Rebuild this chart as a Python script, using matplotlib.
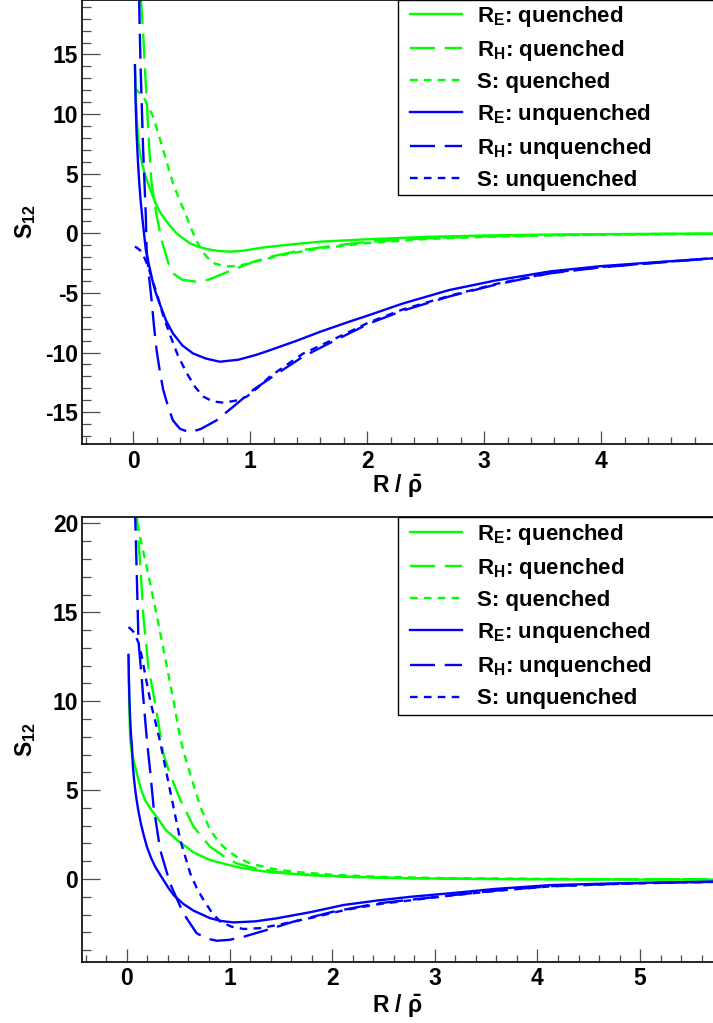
import matplotlib
matplotlib.use("Agg")
import matplotlib.pyplot as plt
from matplotlib.ticker import MultipleLocator
from matplotlib.patches import Rectangle

# ---- data (x = R / rho_bar, y = S_12) ----
# upper panel
re_q_top_x = [0.015, 0.022, 0.03, 0.043, 0.06, 0.085, 0.114, 0.157, 0.19, 0.228, 0.3, 0.37, 0.43, 0.485, 0.55, 0.627, 0.73, 0.83, 0.95, 1.1, 1.3, 1.6, 2.0, 2.5, 3.0, 3.5, 4.0, 4.5, 4.95]
re_q_top_y = [14.1, 11.8, 9.8, 7.8, 6.6, 5.5, 4.5, 3.4, 2.55, 1.8, 0.8, 0.0, -0.45, -0.84, -1.1, -1.32, -1.48, -1.54, -1.45, -1.2, -0.98, -0.7, -0.5, -0.3, -0.18, -0.11, -0.07, -0.04, -0.02]
rh_q_top_x = [0.06, 0.07, 0.085, 0.1, 0.115, 0.135, 0.157, 0.2, 0.243, 0.3, 0.34, 0.42, 0.54, 0.64, 0.74, 0.88, 1.03, 1.2, 1.45, 1.7, 2.02, 2.5, 3.0, 3.5, 4.0, 4.5, 4.95]
rh_q_top_y = [21.0, 19.0, 16.8, 13.9, 11.2, 7.5, 4.2, 1.5, -0.56, -2.5, -3.36, -3.9, -4.06, -3.9, -3.5, -2.95, -2.38, -1.9, -1.4, -1.05, -0.7, -0.42, -0.26, -0.16, -0.1, -0.06, -0.04]
s_q_top_x = [0.015, 0.04, 0.085, 0.17, 0.256, 0.34, 0.4, 0.456, 0.5, 0.54, 0.59, 0.63, 0.7, 0.8, 0.9, 1.0, 1.15, 1.31, 1.6, 2.02, 2.5, 3.0, 3.5, 4.0, 4.5, 4.95]
s_q_top_y = [12.2, 11.9, 11.5, 9.8, 7.0, 4.2, 2.7, 1.4, 0.3, -0.6, -1.5, -2.0, -2.55, -2.78, -2.72, -2.5, -2.1, -1.75, -1.25, -0.8, -0.48, -0.3, -0.19, -0.12, -0.08, -0.05]
re_u_top_x = [0.015, 0.02, 0.029, 0.036, 0.043, 0.052, 0.063, 0.075, 0.086, 0.097, 0.108, 0.125, 0.143, 0.165, 0.19, 0.228, 0.28, 0.34, 0.42, 0.51, 0.62, 0.74, 0.9, 1.05, 1.17, 1.4, 1.6, 1.85, 2.02, 2.3, 2.7, 3.1, 3.56, 4.0, 4.5, 4.955]
re_u_top_y = [14.1, 11.2, 8.4, 6.9, 5.6, 4.2, 2.8, 1.6, 0.56, -0.4, -1.4, -2.2, -3.0, -4.0, -4.9, -5.95, -7.3, -8.4, -9.4, -10.07, -10.5, -10.77, -10.6, -10.2, -9.8, -9.0, -8.25, -7.4, -6.85, -5.9, -4.76, -3.95, -3.2, -2.75, -2.4, -2.1]
rh_u_top_x = [0.048, 0.055, 0.063, 0.075, 0.085, 0.097, 0.108, 0.115, 0.135, 0.157, 0.178, 0.2, 0.228, 0.256, 0.3, 0.34, 0.4, 0.485, 0.58, 0.71, 0.86, 1.03, 1.24, 1.45, 1.7, 2.02, 2.3, 2.7, 3.1, 3.56, 4.0, 4.5, 4.955]
rh_u_top_y = [21.0, 17.5, 14.0, 10.2, 7.0, 4.1, 1.4, -1.4, -3.6, -5.6, -7.8, -9.8, -11.6, -13.1, -14.6, -15.7, -16.4, -16.7, -16.4, -15.7, -14.5, -13.1, -11.7, -10.35, -9.1, -7.55, -6.5, -5.3, -4.3, -3.36, -2.85, -2.45, -2.1]
s_u_top_x = [0.015, 0.057, 0.09, 0.128, 0.16, 0.2, 0.25, 0.31, 0.38, 0.456, 0.53, 0.6, 0.68, 0.77, 0.87, 0.97, 1.07, 1.17, 1.45, 1.7, 2.02, 2.3, 2.7, 3.1, 3.56, 4.0, 4.5, 4.955]
s_u_top_y = [-1.1, -1.4, -1.9, -2.8, -3.8, -5.0, -6.7, -8.4, -10.2, -11.7, -12.9, -13.7, -14.1, -14.2, -14.05, -13.7, -12.9, -12.0, -10.1, -8.95, -7.45, -6.4, -5.25, -4.25, -3.32, -2.83, -2.43, -2.08]

# lower panel
re_q_bot_x = [0.016, 0.022, 0.032, 0.045, 0.065, 0.09, 0.113, 0.14, 0.178, 0.23, 0.29, 0.38, 0.49, 0.65, 0.81, 1.0, 1.14, 1.4, 1.79, 2.2, 2.76, 3.5, 4.3, 5.0, 5.71]
re_q_bot_y = [12.6, 10.0, 7.9, 7.2, 6.69, 6.1, 5.57, 5.0, 4.44, 3.95, 3.5, 2.75, 2.19, 1.5, 1.07, 0.78, 0.6, 0.38, 0.22, 0.12, 0.04, 0.0, -0.02, -0.03, -0.03]
rh_q_bot_x = [0.092, 0.097, 0.113, 0.13, 0.162, 0.21, 0.276, 0.357, 0.42, 0.52, 0.65, 0.81, 0.94, 1.07, 1.25, 1.46, 1.75, 2.11, 2.6, 3.2, 4.0, 4.8, 5.71]
rh_q_bot_y = [21.0, 20.4, 19.0, 17.7, 14.7, 11.9, 9.86, 7.0, 5.9, 4.46, 2.94, 1.82, 1.3, 0.88, 0.6, 0.41, 0.25, 0.13, 0.06, 0.02, 0.0, -0.01, -0.01]
s_q_bot_x = [0.105, 0.13, 0.195, 0.26, 0.357, 0.454, 0.52, 0.568, 0.617, 0.714, 0.81, 0.9, 0.975, 1.08, 1.2, 1.4, 1.62, 2.0, 2.44, 3.0, 3.7, 4.5, 5.71]
s_q_bot_y = [20.0, 19.2, 17.5, 15.7, 12.9, 10.05, 7.9, 6.85, 5.9, 4.1, 2.76, 2.05, 1.63, 1.2, 0.88, 0.6, 0.41, 0.24, 0.13, 0.06, 0.02, 0.0, -0.01]
re_u_bot_x = [0.016, 0.02, 0.025, 0.032, 0.039, 0.049, 0.058, 0.07, 0.08, 0.091, 0.11, 0.136, 0.165, 0.195, 0.235, 0.276, 0.32, 0.357, 0.405, 0.455, 0.55, 0.65, 0.81, 0.92, 1.04, 1.25, 1.46, 1.8, 2.11, 2.45, 2.76, 3.15, 3.6, 4.13, 4.9, 5.71]
re_u_bot_y = [12.6, 11.2, 10.1, 9.0, 8.2, 7.5, 6.4, 5.6, 5.1, 4.6, 3.9, 3.13, 2.45, 1.82, 1.2, 0.69, 0.28, -0.06, -0.5, -0.9, -1.4, -1.78, -2.2, -2.36, -2.44, -2.38, -2.21, -1.85, -1.46, -1.2, -1.0, -0.8, -0.55, -0.34, -0.22, -0.15]
rh_u_bot_x = [0.078, 0.081, 0.097, 0.113, 0.14, 0.162, 0.195, 0.23, 0.26, 0.325, 0.42, 0.55, 0.68, 0.78, 0.877, 1.0, 1.14, 1.4, 1.62, 2.0, 2.44, 3.15, 3.6, 4.13, 4.9, 5.71]
rh_u_bot_y = [21.0, 20.36, 17.0, 13.4, 11.6, 10.05, 7.82, 5.9, 4.07, 1.63, -0.24, -1.93, -3.05, -3.35, -3.47, -3.42, -3.24, -2.8, -2.4, -1.85, -1.37, -0.92, -0.65, -0.4, -0.24, -0.16]
s_u_bot_x = [0.016, 0.04, 0.065, 0.09, 0.113, 0.146, 0.185, 0.227, 0.275, 0.325, 0.42, 0.52, 0.617, 0.68, 0.747, 0.83, 0.91, 1.02, 1.14, 1.3, 1.46, 1.8, 2.11, 2.44, 3.15, 3.6, 4.13, 4.9, 5.71]
s_u_bot_y = [14.17, 14.05, 13.9, 13.6, 13.3, 12.5, 11.3, 10.05, 8.9, 7.7, 5.0, 2.2, 0.32, -0.5, -1.18, -1.9, -2.4, -2.68, -2.81, -2.76, -2.59, -2.18, -1.76, -1.42, -0.93, -0.66, -0.41, -0.25, -0.16]

labels = ["R$_\\mathrm{E}$: quenched", "R$_\\mathrm{H}$: quenched", "S: quenched",
          "R$_\\mathrm{E}$: unquenched", "R$_\\mathrm{H}$: unquenched", "S: unquenched"]
colors = ["#00ff00", "#00ff00", "#00ff00", "#0000ff", "#0000ff", "#0000ff"]
styles = ["-", (0, (18, 7)), (0, (5.5, 4.5))] * 2

top_curves = [(re_q_top_x, re_q_top_y), (rh_q_top_x, rh_q_top_y), (s_q_top_x, s_q_top_y),
              (re_u_top_x, re_u_top_y), (rh_u_top_x, rh_u_top_y), (s_u_top_x, s_u_top_y)]
bot_curves = [(re_q_bot_x, re_q_bot_y), (rh_q_bot_x, rh_q_bot_y), (s_q_bot_x, s_q_bot_y),
              (re_u_bot_x, re_u_bot_y), (rh_u_bot_x, rh_u_bot_y), (s_u_bot_x, s_u_bot_y)]

plt.rcParams['font.family'] = ['Liberation Sans', 'DejaVu Sans']
plt.rcParams['font.weight'] = 'bold'
plt.rcParams['mathtext.fontset'] = 'custom'
plt.rcParams['mathtext.rm'] = 'Liberation Sans:bold'
plt.rcParams['mathtext.it'] = 'Liberation Sans:bold'
plt.rcParams['mathtext.bf'] = 'Liberation Sans:bold'
plt.rcParams['mathtext.default'] = 'rm'
plt.rcParams['axes.unicode_minus'] = False
plt.rcParams['lines.scale_dashes'] = False

fig = plt.figure(figsize=(7.13, 10.23), dpi=100)
ax1 = fig.add_axes([0.1146, 0.566, 0.8854, 0.434])
ax2 = fig.add_axes([0.1146, 0.0599, 0.8854, 0.4347])


def draw(ax, curves, xlim, ylim, xlab_y, box_y0, leg_top):
    for (x, y), c, ls, lab in zip(curves, colors, styles, labels):
        ax.plot(x, y, color=c, ls=ls, lw=1.7, label=lab)
    ax.set_xlim(*xlim)
    ax.set_ylim(*ylim)
    ax.xaxis.set_major_locator(MultipleLocator(1))
    ax.xaxis.set_minor_locator(MultipleLocator(0.2))
    ax.yaxis.set_major_locator(MultipleLocator(5))
    ax.yaxis.set_minor_locator(MultipleLocator(1))
    ax.tick_params(which='both', direction='in', top=False, right=False,
                   color='0.3', width=0.9, labelsize=16.5)
    ax.tick_params(axis='y', which='major', length=13, pad=2.5)
    ax.tick_params(axis='y', which='minor', length=6.5)
    ax.tick_params(axis='x', which='major', length=9.4, pad=4)
    ax.tick_params(axis='x', which='minor', length=5)
    for s in ax.spines.values():
        s.set_linewidth(1.2)
    ax.spines['right'].set_visible(False)
    ax.set_xlabel("R / $\\bar{\\rho}$", fontsize=16.5, fontweight='bold')
    ax.xaxis.set_label_coords(0.5, xlab_y)
    ax.set_ylabel("S$_\\mathrm{12}$", fontsize=16.5, fontweight='bold')
    ax.yaxis.set_label_coords(-0.069, 0.5)
    # legend box (ROOT style), legend entries drawn inside without own frame
    box = Rectangle((0.501, box_y0), 0.6, 1.0 - box_y0, transform=ax.transAxes,
                    facecolor='white', edgecolor='black', lw=1.0, zorder=5, clip_on=False)
    ax.add_patch(box)
    leg = ax.legend(loc='upper left', bbox_to_anchor=(0.52, leg_top), frameon=False,
                    borderaxespad=0, borderpad=0, fontsize=16, labelspacing=0.41,
                    handlelength=2.35, handletextpad=0.68)
    leg.set_zorder(6)


draw(ax1, top_curves, (-0.44, 4.955), (-17.67, 19.57), -0.065, 0.561, 0.992)
draw(ax2, bot_curves, (-0.44, 5.71), (-4.65, 20.36), -0.07, 0.555, 0.989)

fig.savefig("out.png", dpi=100)
